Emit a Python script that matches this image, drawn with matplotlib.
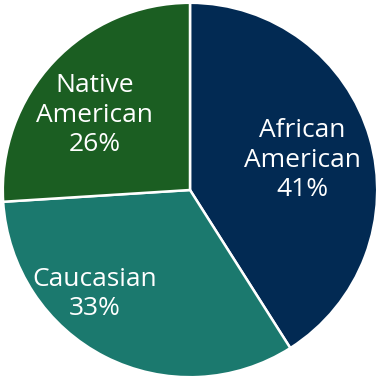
import matplotlib.pyplot as plt

# Data
groups = ['African\nAmerican', 'Caucasian', 'Native\nAmerican']
shares = [41, 33, 26]
colors = ['#022a53', '#1b796e', '#1b5e22']

# label anchor points (axes data coords, pie radius = 1)
label_xy = [(0.60, 0.16), (-0.51, -0.555), (-0.51, 0.40)]

fig = plt.figure(figsize=(3.8, 3.8), dpi=100)
ax = fig.add_axes([0.0, 0.0, 1.0, 1.0])

wedges, _ = ax.pie(shares, colors=colors, startangle=90, counterclock=False,
                   radius=1.0,
                   wedgeprops=dict(edgecolor='white', linewidth=1.8))

for name, val, (x, y) in zip(groups, shares, label_xy):
    ax.text(x, y, f'{name}\n{val}%', color='white', ha='center', va='center',
            fontsize=19, family='Open Sans', fontweight='medium',
            linespacing=1.22)

ax.set_xlim(-1.015, 1.015)
ax.set_ylim(-1.015, 1.015)
ax.set_aspect('equal')
ax.axis('off')

fig.savefig('out.png', dpi=100, facecolor='white')
